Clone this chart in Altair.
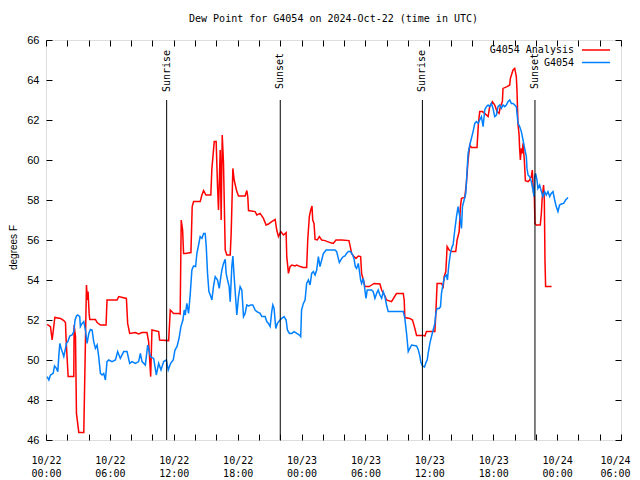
import altair as alt
import pandas as pd

# ---------------- data ----------------
series_names = ["G4054 Analysis", "G4054"]
series_colors = ["#ff0000", "#0080ff"]

analysis_hours = [0.11, 0.42, 0.58, 0.83, 1.36, 1.67, 1.83, 1.89, 2.08, 2.61, 2.64, 2.77, 2.86, 3.08, 3.55,
                  3.58, 3.80, 3.89, 3.95, 4.05, 4.11, 4.64, 4.80, 5.11, 5.64, 5.73, 6.67, 6.83, 7.55, 7.67,
                  7.86, 8.39, 8.70, 9.02, 9.48, 9.64, 9.83, 9.95, 10.58, 10.67, 11.52, 11.67, 11.98, 12.45,
                  12.6, 12.7, 12.83, 12.92, 13.08, 13.61, 13.73, 13.86, 14.48, 14.64, 14.8, 15.02, 15.48,
                  15.58, 15.8, 15.98, 16.11, 16.2, 16.36, 16.45, 16.55, 16.67, 16.83, 16.98, 17.3, 17.39,
                  17.55, 17.67, 17.92, 18.08, 18.7, 18.86, 18.95, 19.02, 19.64, 19.8, 20.11, 20.42, 20.67,
                  20.89, 21.2, 21.52, 21.67, 21.83, 22.05, 22.3, 22.55, 22.61, 22.77, 22.92, 23.08, 23.39,
                  23.55, 23.86, 24.17, 24.48, 24.58, 24.73, 24.86, 24.98, 25.05, 25.17, 25.27, 25.48, 25.67,
                  25.89, 26.2, 26.67, 26.98, 27.23, 27.77, 28.45, 28.61, 28.7, 28.92, 29.11, 29.33, 29.55,
                  29.64, 29.8, 29.95, 30.36, 30.58, 30.8, 31.36, 31.52, 31.83, 31.98, 32.45, 32.77, 32.92,
                  33.55, 33.64, 33.7, 34.17, 34.42, 34.64, 34.8, 35.42, 35.58, 35.73, 36.52, 36.61, 36.73,
                  37.14, 37.3, 37.39, 37.55, 37.67, 37.86, 38.08, 38.48, 38.61, 38.8, 38.92, 39.02, 39.33,
                  39.48, 39.64, 39.8, 39.95, 40.48, 40.61, 40.73, 40.98, 41.2, 41.52, 41.67, 41.92, 42.14,
                  42.36, 42.55, 42.67, 42.86, 42.92, 43.3, 43.55, 43.61, 43.86, 44.02, 44.17, 44.23, 44.33,
                  44.42, 44.48, 44.55, 44.64, 44.73, 44.8, 44.92, 45.02, 45.27, 45.42, 45.58, 45.67, 45.73,
                  45.8, 45.86, 45.92, 46.05, 46.42, 46.52, 46.61, 46.73, 46.8, 46.86, 46.92, 47.48]
analysis_values = [51.78, 51.67, 51.0, 52.13, 52.08, 51.97, 51.87, 51.0, 49.17, 49.17, 51.75, 51.17, 47.33, 46.38,
                   46.38, 47.33, 53.75, 53.0, 53.42, 52.33, 52.03, 52.03, 51.87, 51.75, 51.75, 53.0, 53.0,
                   53.17, 53.08, 51.83, 51.33, 51.37, 51.3, 51.37, 51.37, 50.92, 49.17, 51.5, 51.42, 51.0,
                   50.97, 52.5, 52.33, 52.33, 52.3, 57.0, 56.5, 55.33, 55.33, 55.37, 57.67, 57.92, 57.92,
                   58.25, 58.47, 58.25, 58.25, 59.58, 60.92, 60.92, 58.67, 57.5, 60.5, 57.0, 61.25, 59.83,
                   55.5, 55.25, 55.25, 56.33, 59.58, 59.0, 58.42, 58.2, 58.2, 58.47, 58.17, 57.47, 57.42,
                   57.25, 57.33, 57.08, 56.75, 56.8, 56.92, 57.03, 56.5, 56.17, 56.42, 56.25, 56.37, 55.17,
                   54.33, 54.67, 54.75, 54.7, 54.75, 54.67, 54.63, 54.63, 56.0, 57.17, 57.5, 57.7, 57.0,
                   56.83, 56.03, 56.0, 56.17, 56.0, 55.97, 55.87, 55.83, 56.0, 56.0, 55.97, 55.58, 55.33,
                   55.17, 55.08, 55.2, 55.17, 54.33, 54.0, 53.67, 53.67, 53.75, 53.83, 53.8, 53.5, 53.2,
                   53.0, 52.92, 53.2, 53.33, 53.33, 53.0, 52.12, 52.08, 52.0, 51.58, 51.23, 51.23, 51.2,
                   51.42, 51.42, 52.33, 53.83, 53.83, 53.67, 54.17, 54.42, 55.67, 55.5, 55.42, 55.42, 56.0,
                   56.42, 57.67, 58.08, 58.13, 58.83, 60.0, 60.75, 60.63, 60.63, 61.83, 62.42, 62.42, 62.33,
                   62.17, 62.67, 62.92, 62.75, 62.42, 62.33, 62.67, 62.92, 63.58, 63.67, 63.75, 64.08, 64.5,
                   64.58, 64.17, 63.5, 61.75, 61.33, 60.58, 60.0, 60.58, 60.33, 60.83, 60.0, 58.97, 58.92,
                   59.0, 59.17, 59.5, 58.83, 58.33, 58.17, 56.83, 56.75, 56.75, 57.33, 58.17, 58.75, 58.0,
                   55.0, 53.67, 53.67]

obs_hours = [0.11, 0.27, 0.42, 0.67, 0.80, 0.98, 1.11, 1.20, 1.30, 1.42, 1.55, 1.67, 1.80, 1.92, 2.05, 2.23,
             2.45, 2.61, 2.73, 2.86, 2.98, 3.17, 3.23, 3.39, 3.55, 3.70, 3.86, 4.02, 4.17, 4.33, 4.48, 4.64,
             4.80, 4.95, 5.11, 5.27, 5.42, 5.58, 5.73, 5.89, 6.20, 6.52, 6.73, 6.98, 7.30, 7.61, 7.86, 8.08,
             8.39, 8.70, 8.86, 9.02, 9.33, 9.55, 9.80, 10.11, 10.36, 10.58, 10.80, 11.05, 11.30, 11.48, 11.70,
             11.95, 12.11, 12.30, 12.5, 12.67, 12.86, 12.98, 13.08, 13.23, 13.39, 13.55, 13.7, 13.86, 14.05,
             14.17, 14.33, 14.48, 14.64, 14.8, 14.95, 15.05, 15.17, 15.3, 15.48, 15.58, 15.73, 15.89, 16.11,
             16.27, 16.42, 16.52, 16.67, 16.83, 16.92, 17.05, 17.2, 17.3, 17.45, 17.55, 17.67, 17.8, 17.92,
             18.08, 18.23, 18.39, 18.55, 18.7, 18.86, 19.02, 19.23, 19.42, 19.64, 19.8, 20.11, 20.27, 20.58,
             20.73, 20.89, 21.05, 21.2, 21.3, 21.42, 21.58, 21.73, 21.98, 22.14, 22.36, 22.55, 22.67, 22.86,
             23.08, 23.3, 23.55, 23.8, 23.92, 24.0, 24.17, 24.33, 24.48, 24.64, 24.8, 24.95, 25.11, 25.27,
             25.42, 25.58, 25.73, 25.89, 26.05, 26.2, 26.3, 26.67, 27.14, 27.3, 27.45, 27.55, 27.77, 27.92,
             28.08, 28.23, 28.39, 28.61, 28.8, 28.92, 29.05, 29.17, 29.33, 29.42, 29.55, 29.64, 29.8, 29.89,
             30.05, 30.17, 30.36, 30.58, 30.73, 30.89, 31.05, 31.2, 31.36, 31.52, 31.67, 31.83, 31.98, 32.14,
             32.92, 33.55, 33.7, 33.86, 34.02, 34.17, 34.33, 34.8, 34.95, 35.11, 35.2, 35.36, 35.55, 35.7,
             35.8, 35.89, 36.05, 36.2, 36.36, 36.52, 36.61, 36.73, 36.92, 37.05, 37.14, 37.3, 37.45, 37.61,
             37.7, 37.83, 37.98, 38.14, 38.23, 38.39, 38.55, 38.7, 38.86, 39.02, 39.11, 39.27, 39.42, 39.55,
             39.64, 39.8, 39.95, 40.11, 40.27, 40.42, 40.58, 40.73, 40.89, 41.05, 41.2, 41.36, 41.52, 41.67,
             41.83, 41.98, 42.14, 42.3, 42.45, 42.61, 42.77, 42.92, 43.08, 43.23, 43.39, 43.55, 43.7, 43.86,
             44.02, 44.17, 44.33, 44.48, 44.64, 44.8, 44.95, 45.11, 45.17, 45.27, 45.42, 45.58, 45.73, 45.83,
             45.89, 45.98, 46.11, 46.2, 46.36, 46.52, 46.67, 46.83, 46.98, 47.14, 47.3, 47.45, 47.61, 47.77,
             47.92, 48.08, 48.23, 48.39, 48.61, 48.8, 49.02]
obs_values = [49.17, 49.0, 49.25, 49.33, 49.7, 49.58, 49.42, 50.17, 50.83, 50.58, 50.37, 50.17, 50.5, 50.83,
              50.92, 51.2, 51.25, 51.42, 52.0, 52.2, 52.25, 52.17, 51.67, 51.83, 51.92, 51.5, 50.83, 51.33,
              51.53, 51.5, 50.92, 50.58, 50.75, 50.17, 49.33, 49.25, 49.33, 49.0, 49.92, 50.0, 49.92, 50.0,
              50.42, 50.08, 50.42, 50.42, 49.83, 49.92, 49.83, 49.92, 50.33, 49.92, 49.75, 50.75, 50.17,
              50.08, 49.25, 49.83, 49.5, 49.92, 50.0, 49.5, 49.83, 50.0, 50.5, 50.67, 51.1, 51.67, 52.0,
              52.5, 52.25, 52.83, 52.33, 53.33, 54.5, 54.7, 54.67, 55.33, 55.75, 56.17, 56.08, 56.33, 56.33,
              55.67, 54.33, 53.42, 53.17, 53.0, 53.67, 54.17, 54.0, 53.58, 54.17, 54.5, 54.83, 55.03, 54.33,
              54.0, 53.67, 52.92, 54.67, 55.2, 54.17, 53.17, 52.25, 53.17, 53.67, 53.5, 52.17, 52.33, 52.75,
              52.7, 52.75, 52.75, 52.5, 52.42, 52.33, 52.17, 52.17, 51.92, 51.83, 51.67, 52.42, 52.75, 52.58,
              51.58, 51.83, 52.0, 52.08, 52.17, 52.0, 51.5, 51.33, 51.33, 51.42, 51.33, 51.25, 51.17, 52.5,
              52.83, 53.0, 53.83, 54.0, 53.75, 54.33, 54.42, 54.25, 54.5, 55.17, 54.67, 55.0, 55.33, 55.42,
              55.5, 55.5, 55.5, 55.42, 55.08, 54.87, 55.08, 55.17, 55.2, 55.33, 55.42, 55.42, 55.25, 55.08,
              54.67, 54.58, 54.83, 54.5, 54.0, 53.83, 54.08, 53.75, 53.08, 53.5, 53.5, 53.5, 53.42, 53.08,
              53.33, 53.5, 53.25, 53.08, 53.42, 53.17, 52.75, 52.42, 52.42, 52.42, 52.08, 51.33, 50.42,
              50.58, 50.75, 50.7, 50.53, 50.2, 49.9, 49.7, 49.65, 49.9, 50.0, 50.33, 50.83, 51.17, 51.5,
              51.83, 52.33, 52.58, 52.58, 52.67, 53.33, 53.83, 54.17, 54.25, 54.0, 54.75, 55.33, 55.67,
              55.75, 56.5, 57.17, 57.67, 57.17, 56.58, 57.67, 58.0, 58.33, 59.5, 60.33, 60.75, 61.08, 61.42,
              61.83, 61.92, 61.83, 62.0, 62.17, 61.67, 62.5, 62.67, 62.75, 62.67, 62.83, 62.58, 62.17, 62.25,
              62.67, 62.75, 62.58, 62.75, 62.67, 62.75, 62.92, 63.0, 62.83, 62.83, 62.75, 62.67, 61.83,
              61.67, 61.42, 61.0, 60.58, 60.17, 59.58, 59.25, 59.17, 58.92, 58.5, 58.17, 59.17, 59.33, 59.0,
              58.58, 58.75, 58.42, 58.17, 58.42, 58.25, 58.42, 58.17, 58.33, 58.42, 58.0, 57.67, 57.42,
              57.75, 57.8, 57.83, 58.0, 58.13]

sun_hours = [11.33, 22.0, 35.35, 45.92]
sun_labels = ["Sunrise", "Sunset", "Sunrise", "Sunset"]

x_tick_hours = list(range(0, 56, 2))
y_ticks = list(range(46, 68, 2))
x_span_hours = [0, 54]
y_span = [46, 66]

title_text = "Dew Point for G4054 on 2024-Oct-22 (time in UTC)"
y_title = "degrees F"

# ---------------- build tables ----------------
BASE = pd.Timestamp("2024-10-22", tz="UTC").value // 10**6
HOUR = 3600000


def to_ms(h):
    return BASE + h * HOUR


red_df = pd.DataFrame({"t": [to_ms(h) for h in analysis_hours], "v": analysis_values})
blue_df = pd.DataFrame({"t": [to_ms(h) for h in obs_hours], "v": obs_values})
sun_df = pd.DataFrame({"t": [to_ms(h) for h in sun_hours], "label": sun_labels})
leg1_df = pd.DataFrame({"name": [series_names[0]]})
leg2_df = pd.DataFrame({"name": [series_names[1]]})

MONO = "DejaVu Sans Mono"
SANS = "Liberation Sans"

x_scale = alt.Scale(type="utc", domain=[to_ms(h) for h in x_span_hours], nice=False)
y_scale = alt.Scale(domain=y_span, nice=False, zero=False)
x_vals = [to_ms(h) for h in x_tick_hours]
last_ms = to_ms(x_span_hours[1])

x_axis = alt.Axis(
    values=x_vals,
    labelExpr="utchours(datum.value) % 6 == 0 ? [utcFormat(datum.value, '%m/%d'), utcFormat(datum.value, '%H:%M')] : ''",
    title=None, domain=False, grid=False, offset=-6, tickSize=6, tickColor="black",
    labelFont=MONO, labelFontSize=10, labelColor="black", labelPadding=15,
    labelLineHeight=13, labelFlush=False, labelOverlap=False, labelBound=False,
    labelOffset={"condition": {"test": f"datum.value >= {last_ms - 1}", "value": -6}, "value": 0},
)
y_axis = alt.Axis(
    values=y_ticks, title=y_title, domain=False, grid=False, offset=-6, tickSize=6,
    tickColor="black", labelFont=SANS, labelFontSize=11, labelColor="black", labelPadding=7,
    titleFont=SANS, titleFontSize=10, titleFontWeight="normal", titleColor="black",
    titlePadding=8, titleY=207,
)

X = alt.X("t:T", scale=x_scale, axis=x_axis)
Y = alt.Y("v:Q", scale=y_scale, axis=y_axis)

red = alt.Chart(red_df).mark_line(color=series_colors[0], strokeWidth=1.5).encode(x=X, y=Y)
blue = alt.Chart(blue_df).mark_line(color=series_colors[1], strokeWidth=1.5).encode(x=X, y=Y)

sun_rules = alt.Chart(sun_df).mark_rule(color="black", strokeWidth=1).encode(
    x=X, y=alt.value(60), y2=alt.value(400)
)
sun_text = alt.Chart(sun_df).mark_text(
    angle=270, font=MONO, fontSize=10, align="center", baseline="middle", color="black"
).encode(x=X, y=alt.value(31), text="label:N")

leg1_text = alt.Chart(leg1_df).mark_text(
    align="right", baseline="middle", font=MONO, fontSize=10, color="black"
).encode(x=alt.value(528), y=alt.value(10), text="name:N")
leg1_line = alt.Chart(leg1_df).mark_rule(color=series_colors[0], strokeWidth=1.5).encode(
    x=alt.value(536), x2=alt.value(564), y=alt.value(10)
)
leg2_text = alt.Chart(leg2_df).mark_text(
    align="right", baseline="middle", font=MONO, fontSize=10, color="black"
).encode(x=alt.value(528), y=alt.value(22.5), text="name:N")
leg2_line = alt.Chart(leg2_df).mark_rule(color=series_colors[1], strokeWidth=1.5).encode(
    x=alt.value(536), x2=alt.value(564), y=alt.value(22.5)
)

inner = alt.layer(red, blue, sun_rules, sun_text, leg1_text, leg1_line, leg2_text, leg2_line)

mirror = alt.Chart(blue_df).mark_line(strokeOpacity=0).encode(
    x=alt.X("t:T", scale=x_scale, axis=alt.Axis(
        orient="top", values=x_vals, labels=False, title=None, domain=False, grid=False,
        offset=-6, tickSize=6, tickColor="black")),
    y=alt.Y("v:Q", scale=y_scale, axis=alt.Axis(
        orient="right", values=y_ticks, labels=False, title=None, domain=False, grid=False,
        offset=-6, tickSize=6, tickColor="black")),
)

chart = alt.layer(inner, mirror).resolve_scale(x="independent", y="independent").properties(
    width=575, height=400,
    autosize="none",
    padding={"left": 38, "top": 32, "right": 11, "bottom": 40},
    title=alt.TitleParams(title_text, font=MONO, fontSize=10, fontWeight="normal",
                          color="black", anchor="middle", offset=10),
).configure_view(stroke="black", strokeWidth=1).configure(background="white")

chart.save("out.html", embed_options={"renderer": "svg", "actions": False})
